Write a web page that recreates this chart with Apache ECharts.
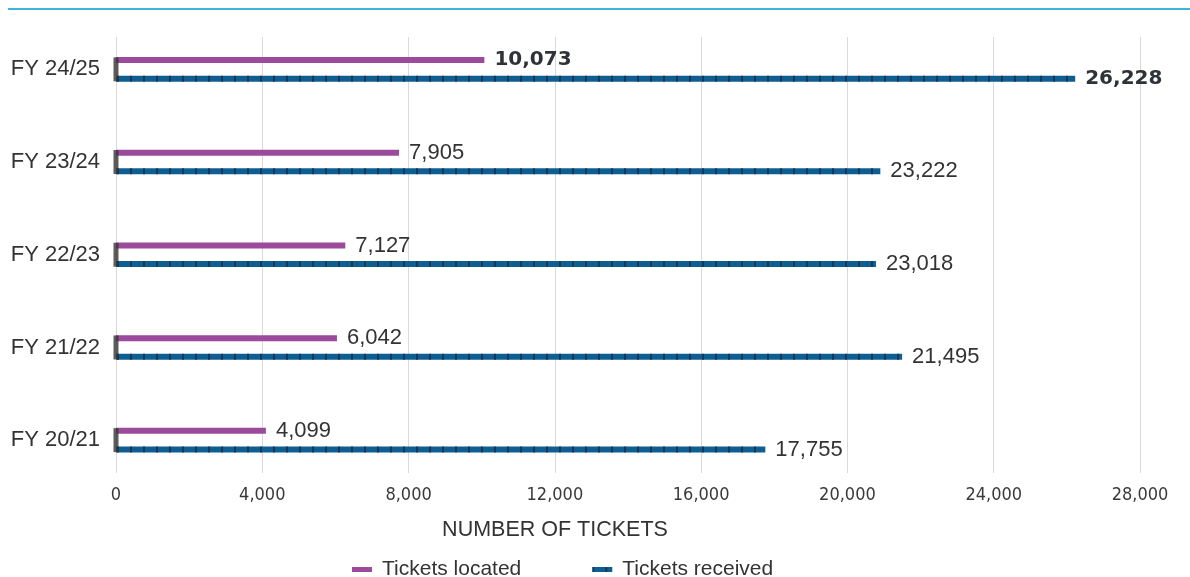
<!DOCTYPE html>
<html>
<head>
<meta charset="utf-8">
<script src="https://cdn.jsdelivr.net/npm/echarts@6/dist/echarts.min.js"></script>
<style>
html,body{margin:0;padding:0;background:#fff;}
#chart{width:1190px;height:577px;}
</style>
</head>
<body>
<div id="chart"></div>
<script>
const categories = ['FY 24/25', 'FY 23/24', 'FY 22/23', 'FY 21/22', 'FY 20/21'];
// bar lengths as drawn in the picture
const ticketsLocated = [10073, 7740, 6270, 6042, 4099];
const ticketsReceived = [26228, 20900, 20780, 21495, 17755];
// value labels as printed in the picture
const locatedLabels = ['10,073', '7,905', '7,127', '6,042', '4,099'];
const receivedLabels = ['26,228', '23,222', '23,018', '21,495', '17,755'];
const baseMarker = [0, 0, 0, 0, 0];
const xTicks = [0, 4000, 8000, 12000, 16000, 20000, 24000, 28000];
const axisTitle = 'NUMBER OF TICKETS';
const seriesNames = ['Tickets located', 'Tickets received'];

const fmt = v => Number(v).toLocaleString('en-US');
const boldFirst = arr => arr.map((v, i) => i === 0 ? {
  value: v,
  label: { fontFamily: 'DejaVu Sans', fontWeight: 'bold', fontSize: 20, color: '#2f3237' }
} : v);

const chart = echarts.init(document.getElementById('chart'));
const labelStyle = labels => ({
  show: true, position: 'right', distance: 10,
  formatter: p => labels[p.dataIndex],
  fontFamily: 'Liberation Sans, Arial, sans-serif', fontSize: 22, color: '#333'
});
chart.setOption({
  animation: false,
  backgroundColor: '#fff',
  grid: [
    { left: 116, right: 50, top: 23, height: 463.5 },
    { left: 116, right: 50, top: 37, bottom: 104 }
  ],
  xAxis: [
    { gridIndex: 0, type: 'value', min: xTicks[0], max: xTicks[xTicks.length - 1], show: false },
    {
      gridIndex: 1, type: 'value', min: xTicks[0], max: xTicks[xTicks.length - 1],
      interval: xTicks[1] - xTicks[0],
      axisLine: { show: false }, axisTick: { show: false },
      splitLine: { show: true, lineStyle: { color: '#d9d9d9', width: 1 } },
      axisLabel: {
        margin: 13, formatter: v => fmt(v),
        fontFamily: 'Liberation Sans Narrow, DejaVu Sans Condensed, Arial Narrow, sans-serif',
        fontSize: 18, color: '#3a3a3a'
      }
    }
  ],
  yAxis: [
    {
      gridIndex: 0, type: 'category', data: categories, inverse: true,
      axisLine: { show: false }, axisTick: { show: false }, splitLine: { show: false },
      axisLabel: { margin: 16, fontFamily: 'Liberation Sans, Arial, sans-serif', fontSize: 22, color: '#333' }
    },
    { gridIndex: 1, type: 'value', show: false }
  ],
  legend: {
    data: seriesNames,
    left: 347, top: 554,
    itemWidth: 20, itemHeight: 5, itemGap: 71,
    icon: 'rect',
    textStyle: { fontFamily: 'Liberation Sans, Arial, sans-serif', fontSize: 21, color: '#333', padding: [0, 0, 0, 5] }
  },
  series: [
    {
      name: seriesNames[0], type: 'bar', xAxisIndex: 0, yAxisIndex: 0,
      data: boldFirst(ticketsLocated),
      barWidth: 6, barGap: '210%',
      itemStyle: { color: '#9c4a9c' },
      label: labelStyle(locatedLabels)
    },
    {
      name: seriesNames[1], type: 'bar', xAxisIndex: 0, yAxisIndex: 0,
      data: boldFirst(ticketsReceived),
      barWidth: 6, barGap: '210%',
      itemStyle: {
        color: '#0e5e92',
        decal: { symbol: 'rect', symbolSize: 1, dashArrayX: [2, 11], dashArrayY: [6, 0], color: 'rgba(20,45,70,0.75)', rotation: 0 }
      },
      label: labelStyle(receivedLabels)
    },
    {
      name: 'base', type: 'scatter', xAxisIndex: 0, yAxisIndex: 0,
      data: baseMarker.map((v, i) => [v, categories[i]]),
      symbol: 'rect', symbolSize: [5, 24],
      itemStyle: { color: '#333' }, z: 5, silent: true
    }
  ],
  graphic: [
    { type: 'line', shape: { x1: 8, y1: 9, x2: 1190, y2: 9 }, style: { stroke: '#3cb4dc', lineWidth: 2 } },
    { type: 'text', x: 555, y: 530, style: { text: axisTitle, align: 'center', verticalAlign: 'middle', font: '21.5px "Liberation Sans", Arial, sans-serif', fill: '#333' } }
  ]
});
</script>
</body>
</html>
